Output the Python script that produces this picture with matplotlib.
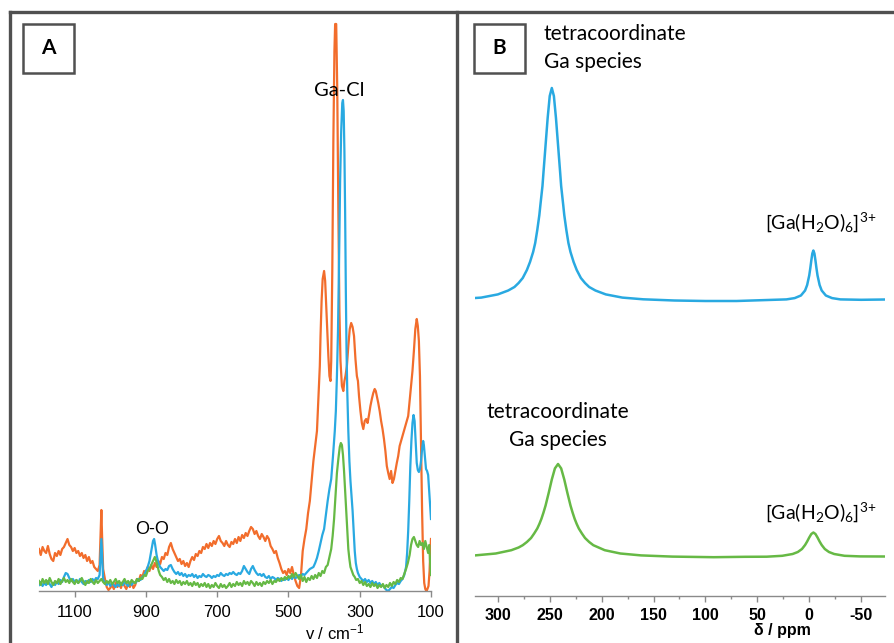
import numpy as np
import matplotlib
matplotlib.use('Agg')
import matplotlib.pyplot as plt
from matplotlib.lines import Line2D
from matplotlib.patches import Rectangle

plt.rcParams['axes.unicode_minus'] = False

# ---------------- panel A: Raman spectra (wavenumber / intensity) ----------------
raman_orange_x = [1200, 1195, 1190, 1185, 1180, 1175, 1170, 1165, 1160, 1155, 1150, 1145, 1140, 1135, 1130, 1125,
                  1120, 1115, 1110, 1105, 1100, 1095, 1090, 1085, 1080, 1075, 1070, 1065, 1060, 1055, 1050, 1045,
                  1040, 1035, 1030, 1027, 1025, 1023, 1020, 1015, 1010, 1005, 1000, 995, 990, 985, 980, 975, 970,
                  965, 960, 955, 950, 945, 940, 935, 930, 925, 920, 915, 910, 905, 900, 895, 890, 885, 880, 875,
                  870, 865, 860, 855, 850, 845, 840, 835, 830, 825, 820, 815, 810, 805, 800, 795, 790, 785, 780,
                  775, 770, 765, 760, 755, 750, 745, 740, 735, 730, 725, 720, 715, 710, 705, 700, 695, 690, 685,
                  680, 675, 670, 665, 660, 655, 650, 645, 640, 635, 630, 625, 620, 615, 610, 605, 600, 595, 590,
                  585, 580, 575, 570, 565, 560, 555, 550, 545, 540, 535, 530, 525, 520, 515, 510, 505, 500, 495,
                  490, 485, 480, 475, 470, 465, 460, 455, 450, 445, 440, 435, 430, 425, 420, 415, 412, 410, 407,
                  404, 400, 397, 394, 391, 388, 385, 382, 380, 377, 374, 371, 369, 366, 363, 360, 357, 354, 350,
                  346, 343, 340, 336, 332, 328, 324, 320, 316, 312, 308, 305, 302, 298, 294, 290, 286, 282, 278,
                  274, 270, 266, 262, 258, 255, 252, 248, 244, 240, 236, 232, 228, 224, 220, 216, 212, 208, 204,
                  200, 196, 192, 188, 184, 180, 176, 172, 168, 164, 160, 156, 152, 148, 144, 140, 137, 134, 131,
                  128, 125, 122, 119, 116, 113, 110, 107, 104, 102, 100]
raman_orange_y = [42, 36, 44, 40, 38, 45, 37, 32, 30, 38, 35, 40, 36, 42, 44, 48,
                  52, 46, 44, 40, 43, 38, 40, 35, 38, 33, 36, 30, 34, 28, 30, 24,
                  22, 20, 26, 60, 81, 55, 22, 12, 4, 1, 3, 6, 2, 8, 4, 7, 3,
                  9, 5, 2, 7, 4, 9, 3, 6, 12, 10, 16, 14, 20, 18, 24, 20, 26, 22, 28,
                  24, 30, 27, 34, 32, 38, 36, 44, 48, 42, 38, 34, 30, 32, 27, 30, 25, 28, 24,
                  30, 34, 31, 37, 35, 40, 38, 44, 42, 47, 43, 48, 45, 50, 47, 52, 55, 50, 48,
                  45, 50, 46, 44, 49, 47, 52, 48, 54, 50, 56, 53, 58, 55, 60, 64, 62, 57, 60,
                  55, 52, 57, 54, 50, 55, 52, 45, 42, 38, 40, 33, 28, 22, 18, 20, 16, 22, 18,
                  24, 16, 10, 5, 3, 15, 40, 52, 62, 78, 90, 110, 130, 145, 160, 200, 225, 255, 290,
                  312, 320, 310, 285, 260, 235, 215, 210, 230, 320, 450, 540, 567, 567, 500, 380, 280, 230, 205,
                  200, 210, 215, 225, 245, 262, 268, 264, 255, 232, 215, 210, 195, 180, 168, 162, 170, 172, 168,
                  176, 185, 192, 198, 202, 200, 195, 188, 180, 170, 162, 152, 140, 125, 118, 112, 120, 108, 112,
                  120, 128, 135, 145, 150, 155, 160, 165, 170, 175, 190, 205, 220, 240, 262, 272, 265, 250, 215,
                  150, 80, 30, 8, 2, 0, 2, 5, 20, 40, 52]

raman_blue_x = [1200, 1195, 1190, 1185, 1180, 1175, 1170, 1165, 1160, 1155, 1150, 1145, 1140, 1135, 1130, 1125,
                1120, 1115, 1110, 1105, 1100, 1095, 1090, 1085, 1080, 1075, 1070, 1065, 1060, 1055, 1050, 1045,
                1040, 1035, 1030, 1027, 1025, 1023, 1020, 1015, 1010, 1005, 1000, 995, 990, 985, 980, 975, 970,
                965, 960, 955, 950, 945, 940, 935, 930, 925, 920, 915, 910, 905, 900, 895, 890, 885, 880, 877,
                874, 870, 865, 860, 855, 850, 845, 840, 835, 830, 825, 820, 815, 810, 805, 800, 795, 790, 785,
                780, 775, 770, 765, 760, 755, 750, 745, 740, 735, 730, 725, 720, 715, 710, 705, 700, 695, 690,
                685, 680, 675, 670, 665, 660, 655, 650, 645, 640, 635, 630, 625, 620, 615, 610, 605, 600, 595,
                590, 585, 580, 575, 570, 565, 560, 555, 550, 545, 540, 535, 530, 525, 520, 515, 510, 505, 500,
                495, 490, 485, 480, 475, 470, 465, 460, 455, 450, 445, 440, 435, 430, 425, 420, 415, 410, 405,
                400, 395, 390, 385, 380, 375, 370, 367, 364, 361, 358, 355, 352, 349, 347, 345, 343, 341, 339,
                337, 335, 332, 329, 326, 323, 320, 317, 314, 311, 308, 305, 300, 295, 290, 285, 280, 275, 270,
                265, 260, 255, 250, 245, 240, 235, 230, 225, 220, 215, 210, 205, 200, 195, 190, 185, 180, 175,
                170, 167, 164, 161, 158, 155, 152, 149, 146, 143, 140, 137, 134, 131, 128, 125, 122, 120, 117,
                114, 111, 108, 105, 102, 100]
raman_blue_y = [6, 9, 5, 8, 6, 10, 7, 4, 8, 6, 9, 7, 11, 9, 14, 18,
                17, 13, 10, 12, 9, 11, 8, 12, 9, 7, 10, 8, 11, 9, 12, 10,
                13, 12, 16, 38, 52, 36, 12, 8, 6, 9, 5, 8, 6, 4, 7, 5, 8,
                6, 9, 7, 5, 8, 6, 9, 8, 10, 12, 11, 14, 16, 20, 24, 30, 40, 50, 52,
                46, 36, 28, 24, 22, 20, 22, 21, 25, 26, 22, 19, 17, 19, 16, 18, 15, 17, 14,
                16, 15, 17, 14, 16, 13, 15, 14, 17, 15, 14, 16, 15, 13, 15, 14, 16, 15, 18,
                16, 15, 17, 16, 18, 17, 19, 17, 16, 18, 17, 20, 25, 22, 19, 17, 22, 25, 21,
                18, 16, 17, 15, 17, 14, 13, 15, 12, 14, 13, 11, 13, 12, 10, 12, 11, 13, 11,
                14, 12, 15, 13, 14, 16, 15, 17, 16, 18, 20, 22, 23, 24, 28, 33, 40, 48, 56,
                62, 76, 90, 102, 112, 135, 160, 180, 215, 260, 330, 410, 460, 488, 491, 480, 440, 380, 300,
                240, 200, 160, 130, 110, 95, 80, 60, 40, 28, 22, 18, 14, 12, 10, 12, 9, 11, 8,
                10, 7, 9, 6, 8, 5, 6, 3, 1, 0, 2, 4, 3, 6, 8, 7, 10, 12, 16,
                24, 38, 60, 90, 125, 150, 168, 176, 170, 150, 128, 121, 119, 122, 130, 142, 150, 146, 134,
                122, 120, 116, 100, 85, 72]

raman_green_x = [1200, 1195, 1190, 1185, 1180, 1175, 1170, 1165, 1160, 1155, 1150, 1145, 1140, 1135, 1130, 1125,
                 1120, 1115, 1110, 1105, 1100, 1095, 1090, 1085, 1080, 1075, 1070, 1065, 1060, 1055, 1050, 1045,
                 1040, 1035, 1030, 1025, 1020, 1015, 1010, 1005, 1000, 995, 990, 985, 980, 975, 970, 965, 960,
                 955, 950, 945, 940, 935, 930, 925, 920, 915, 910, 905, 900, 895, 890, 885, 880, 875, 872, 868,
                 864, 860, 855, 850, 845, 840, 835, 830, 825, 820, 815, 810, 805, 800, 795, 790, 785, 780, 775,
                 770, 765, 760, 755, 750, 745, 740, 735, 730, 725, 720, 715, 710, 705, 700, 695, 690, 685, 680,
                 675, 670, 665, 660, 655, 650, 645, 640, 635, 630, 625, 620, 615, 610, 605, 600, 595, 590, 585,
                 580, 575, 570, 565, 560, 555, 550, 545, 540, 535, 530, 525, 520, 515, 510, 505, 500, 495, 490,
                 485, 480, 475, 470, 465, 460, 455, 450, 445, 440, 435, 430, 425, 420, 415, 410, 405, 400, 395,
                 390, 385, 380, 376, 372, 368, 364, 360, 356, 353, 350, 347, 344, 341, 338, 335, 332, 329, 326,
                 322, 318, 314, 310, 305, 300, 295, 290, 285, 280, 275, 270, 265, 260, 255, 250, 245, 240, 235,
                 230, 225, 220, 215, 210, 205, 200, 195, 190, 185, 180, 175, 170, 165, 160, 156, 152, 148, 144,
                 140, 136, 132, 128, 124, 120, 116, 112, 108, 105, 103, 101, 100]
raman_green_y = [10, 6, 12, 8, 11, 7, 13, 9, 6, 10, 8, 12, 7, 10, 13, 9,
                 11, 8, 12, 9, 7, 11, 8, 10, 13, 9, 6, 10, 8, 12, 9, 7,
                 11, 8, 10, 12, 9, 7, 10, 8, 11, 7, 9, 12, 8, 10, 6, 9, 12,
                 8, 10, 7, 11, 9, 8, 12, 10, 13, 12, 16, 15, 20, 22, 26, 30, 34, 31, 26,
                 20, 16, 14, 11, 13, 9, 12, 8, 10, 7, 11, 8, 10, 6, 9, 7, 10, 6, 8,
                 5, 9, 6, 8, 4, 7, 5, 8, 4, 7, 3, 6, 4, 8, 5, 3, 7, 4, 6,
                 3, 5, 8, 4, 7, 5, 9, 6, 8, 5, 10, 7, 9, 6, 10, 8, 5, 9, 6,
                 8, 5, 9, 7, 10, 8, 11, 7, 10, 9, 12, 10, 13, 11, 14, 12, 15, 13, 17,
                 14, 18, 15, 12, 16, 10, 14, 9, 13, 11, 15, 12, 16, 13, 18, 15, 20, 18, 24,
                 26, 34, 42, 55, 72, 95, 118, 132, 144, 148, 146, 136, 120, 100, 78, 58, 42, 32, 24,
                 20, 16, 14, 11, 12, 8, 10, 6, 9, 5, 7, 4, 8, 5, 7, 3, 6, 4, 7,
                 3, 6, 4, 8, 5, 9, 7, 11, 9, 13, 12, 17, 22, 28, 36, 46, 52, 54, 50,
                 46, 44, 50, 46, 48, 42, 50, 44, 38, 46, 32, 22, 16]

raman_ticks = [1100, 900, 700, 500, 300, 100]

# ---------------- panel B: 71Ga NMR (ppm / intensity) ----------------
nmr_blue_x = [322, 316, 300, 290, 284, 280, 276, 272, 269, 266, 264, 262, 260, 259, 257, 256, 254, 252, 250,
              248, 246, 244, 242, 240, 239, 237, 236, 234, 232, 230, 227, 224, 220, 216, 212, 206, 196, 180, 160,
              130, 100, 70, 40, 22, 14, 8, 4, 2, 0, -1, -2, -3, -4, -5, -6, -7, -8, -10, -12, -16, -22, -30,
              -50, -73]
nmr_blue_y = [298, 298.4, 301.6, 305.5, 309, 313, 318, 326, 334, 344, 353, 366, 381, 391, 410, 424, 451, 478, 500,
              508, 500, 478, 451, 424, 410, 391, 381, 366, 353, 344, 334, 326, 318, 313, 309, 305.5, 301.6, 298.4,
              296.7, 295.5, 295, 295, 296, 296.6, 297.9, 300.5, 305.5, 311, 320.5, 327.5, 335.5, 342.5, 345.5,
              342.5, 335.5, 327.5, 320.5, 311, 305.5, 300.5, 297.9, 296.6, 296.2, 296.5]

nmr_green_x = [322, 302, 287, 280, 276, 272, 268, 265, 262, 260, 258, 256, 254, 251, 248, 245, 242, 239, 236,
               233, 230, 228, 226, 224, 222, 219, 216, 212, 208, 197, 182, 162, 132, 92, 62, 41, 26, 16, 11, 7,
               4, 2, 0, -2, -4, -6, -8, -10, -12, -15, -19, -24, -34, -49, -73]
nmr_green_y = [40.6, 42.5, 45.8, 48.5, 50.8, 54, 58, 62.5, 67.5, 72, 77.2, 83.5, 90.5, 103.1, 116.5, 127.6, 132,
               127.6, 116.5, 103.1, 90.5, 83.5, 77.2, 72, 67.5, 62.5, 58, 54, 50.8, 45.8, 42.5, 40.6, 39.4, 38.8,
               39.2, 39.3, 40.2, 42, 44, 47, 51, 54.5, 58.5, 62, 63.5, 62, 58.5, 54.5, 51, 47, 44, 42, 40.2,
               39.6, 39.5]

nmr_ticks = [300, 250, 200, 150, 100, 50, 0, -50]
nmr_minor = [275, 225, 175, 125, 75, 25, -25]

orange = '#F26D2C'
blue = '#29A9E1'
green = '#66B945'
axis_grey = '#8A8A8A'
frame_grey = '#505050'
calib = ['Lato', 'DejaVu Sans']
arial = ['Liberation Sans', 'DejaVu Sans']

W, H = 894, 643
fig = plt.figure(figsize=(W / 100, H / 100), dpi=100)


def fx(px):
    return px / W


def fy(py):
    return 1 - py / H


# outer frames
for (x0, y0, x1, y1) in [(10, 12, 894, 12), (10, 12, 10, 643), (457, 12, 457, 643)]:
    fig.add_artist(Line2D([fx(x0), fx(x1)], [fy(y0), fy(y1)], color=frame_grey, lw=2.4,
                          solid_capstyle='projecting'))

# panel A axes
axA = fig.add_axes([fx(39), fy(591), fx(431 - 39), (591 - 20) / H])
axA.plot(raman_orange_x, raman_orange_y, color=orange, lw=1.6)
axA.plot(raman_blue_x, raman_blue_y, color=blue, lw=1.6)
axA.plot(raman_green_x, raman_green_y, color=green, lw=1.6)
axA.set_xlim(1200, 100)
axA.set_ylim(0, 571)
axA.set_xticks(raman_ticks)
axA.set_yticks([])
for s in ['top', 'right', 'left']:
    axA.spines[s].set_visible(False)
axA.spines['bottom'].set_color(axis_grey)
axA.spines['bottom'].set_linewidth(1.0)
axA.tick_params(axis='x', direction='out', length=4, width=1, color=axis_grey, pad=6, labelsize=12)
for lab in axA.get_xticklabels():
    lab.set_family(arial)
axA.patch.set_alpha(0)

# panel B axes
axB = fig.add_axes([fx(475), fy(596), fx(885 - 475), (596 - 30) / H])
axB.plot(nmr_blue_x, nmr_blue_y, color=blue, lw=1.8)
axB.plot(nmr_green_x, nmr_green_y, color=green, lw=1.8)
axB.set_xlim(322, -73)
axB.set_ylim(0, 566)
axB.set_xticks(nmr_ticks)
axB.set_xticks(nmr_minor, minor=True)
axB.set_yticks([])
for s in ['top', 'right', 'left']:
    axB.spines[s].set_visible(False)
axB.spines['bottom'].set_color(axis_grey)
axB.spines['bottom'].set_linewidth(1.0)
axB.tick_params(axis='x', which='major', direction='out', length=4, width=1, color=axis_grey, pad=5,
                labelsize=11.5)
axB.tick_params(axis='x', which='minor', direction='out', length=2, width=1, color=axis_grey)
for lab in axB.get_xticklabels():
    lab.set_family(arial)
    lab.set_fontweight('bold')
axB.patch.set_alpha(0)

# panel letters
for (x0, y0, letter) in [(23, 24, 'A'), (474, 24, 'B')]:
    fig.add_artist(Rectangle((fx(x0), fy(73)), fx(51), (73 - y0) / H, fill=False,
                             edgecolor=frame_grey, lw=1.8))
    fig.text(fx(x0 + 25.5), fy(48), letter, ha='center', va='center', fontsize=15,
             fontweight='bold', family=calib)

# annotations
fig.text(fx(339), fy(91), 'Ga-Cl', ha='center', va='center', fontsize=14.5, family=calib)
fig.text(fx(152), fy(529), 'O-O', ha='center', va='center', fontsize=13, family=arial)
fig.text(fx(335), fy(632), r'v / cm$\mathregular{^{-1}}$', ha='center', va='center', fontsize=12,
         family=arial)
fig.text(fx(782), fy(631), 'δ / ppm', ha='center', va='center', fontsize=11.5, fontweight='bold',
         family=arial)

fig.text(fx(544), fy(34), 'tetracoordinate', ha='left', va='center', fontsize=15, family=calib)
fig.text(fx(544), fy(62), 'Ga species', ha='left', va='center', fontsize=15, family=calib)
fig.text(fx(558), fy(412), 'tetracoordinate', ha='center', va='center', fontsize=15, family=calib)
fig.text(fx(558), fy(440), 'Ga species', ha='center', va='center', fontsize=15, family=calib)
ga_label = r'[Ga(H$\mathregular{_2}$O)$\mathregular{_6}$]$\mathregular{^{3{+}}}$'
fig.text(fx(765), fy(222), ga_label, ha='left', va='center', fontsize=14, family=calib)
fig.text(fx(765), fy(512), ga_label, ha='left', va='center', fontsize=14, family=calib)

fig.savefig('out.png', dpi=100)
